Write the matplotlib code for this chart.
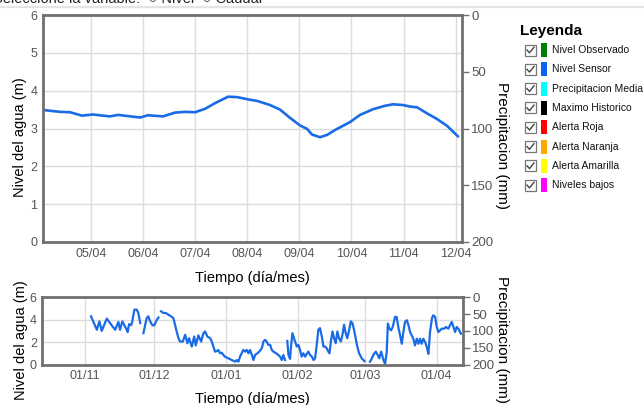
import numpy as np
import pandas as pd
import matplotlib
matplotlib.use("Agg")
import matplotlib.pyplot as plt
import matplotlib.dates as mdates
from matplotlib.patches import Rectangle

plt.rcParams['font.family'] = ['Liberation Sans', 'DejaVu Sans']

# ---------------- data ----------------
# top chart: days since 2016-04-05 00:00, water level (m)
top_days = [-0.915, -0.589, -0.397, -0.167, 0.044, 0.370, 0.524, 0.946, 1.099, 1.387,
            1.617, 1.809, 2.001, 2.193, 2.385, 2.634, 2.806, 3.055, 3.190, 3.439,
            3.631, 3.823, 4.015, 4.149, 4.245, 4.398, 4.533, 4.686, 4.974, 5.166,
            5.415, 5.645, 5.798, 5.990, 6.124, 6.258, 6.450, 6.642, 6.834, 7.045]
top_level = [3.49, 3.44, 3.43, 3.34, 3.37, 3.32, 3.36, 3.29, 3.35, 3.32,
             3.42, 3.44, 3.43, 3.52, 3.67, 3.84, 3.83, 3.76, 3.73, 3.62,
             3.50, 3.28, 3.08, 2.99, 2.84, 2.77, 2.83, 2.96, 3.17, 3.36,
             3.51, 3.60, 3.64, 3.62, 3.58, 3.56, 3.40, 3.25, 3.07, 2.79]
top_ticks = ['2016-04-05', '2016-04-06', '2016-04-07', '2016-04-08',
             '2016-04-09', '2016-04-10', '2016-04-11', '2016-04-12']

# bottom chart: days since 2015-11-01, water level (m); NaN marks gaps
bot_days = [2.8, 5.3, 6.4, 7.4, 9.6, 11.7, 13.2, 14.6, 15.3, 16.3, 17.2, 18.2, 18.6, 19.2,
            20.1, 20.6, 21.5, 22.5, 23.2, 24.0, 24.7,
            25.4, 26.8, 27.5, 28.3, 29.3, 30.1, 31.2, 31.9, 32.5,
            33.0, 34.0, 35.0, 36.2, 37.3, 38.3, 39.1, 39.8, 40.5, 41.2, 42.4, 43.4, 44.4,
            45.1, 46.3, 47.3, 48.0, 49.1, 50.3, 51.3, 52.0, 53.0, 54.2, 54.9, 55.6, 56.3,
            57.1, 57.7, 58.5, 59.2, 59.9, 60.6, 62.1, 63.5, 65.0, 65.7, 66.4, 67.1, 67.8,
            68.5, 69.3, 70.0, 70.7, 71.4, 72.2, 72.9, 73.6, 74.6, 75.4, 76.5, 77.2, 77.9,
            78.6, 79.3, 80.1, 80.8, 81.5, 82.7, 83.6, 84.4, 85.1, 85.8, 86.5, 87.0,
            87.5, 88.0, 88.7, 89.1, 89.7, 90.6, 91.6, 92.3, 93.0, 93.7, 94.4, 95.2, 95.9,
            96.6, 97.3, 98.1, 98.8, 99.5, 100.2, 100.9, 101.6, 102.4, 103.1, 103.8, 104.5,
            105.2, 105.7, 106.3, 107.0, 107.7, 108.4, 109.1, 109.8, 110.6, 111.3, 112.0,
            112.7, 113.4, 114.2, 114.9, 115.6, 116.3, 117.0, 117.7, 118.5, 119.6, 120.8, 122.0,
            123.2, 124.0, 124.6, 125.7, 126.5, 127.2, 128.0, 129.0, 129.7, 130.4, 130.9,
            131.6, 132.3, 133.0, 134.0, 134.7, 135.4, 136.2, 136.9, 137.6, 138.3, 139.1,
            139.8, 140.5, 141.2, 141.9, 142.6, 143.4, 144.1, 144.8, 145.5, 146.2, 147.0,
            147.7, 148.4, 149.1, 149.9, 150.5, 151.3, 152.0, 152.7, 153.4, 154.2, 155.2,
            156.0, 157.0, 157.7, 158.5, 159.2, 159.9, 160.6, 161.3, 162.4]
bot_level = [4.3, 3.1, 3.85, 3.0, 4.1, 3.5, 3.1, 3.8, 3.1, 3.85, 3.5, 3.1, 2.9, 3.6,
             3.5, 3.85, 4.9, 4.9, 4.6, 3.7, np.nan,
             2.8, 4.15, 4.3, 3.85, 3.5, 3.5, 4.0, 4.2, np.nan,
             4.75, 4.6, 4.6, 4.45, 4.3, 4.15, 3.5, 2.95, 2.35, 2.05, 2.05, 2.65, 1.9,
             2.35, 1.6, 2.5, 1.7, 2.6, 2.05, 2.8, 2.95, 2.5, 2.35, 2.05, 1.6, 1.15,
             1.2, 1.3, 1.0, 1.05, 0.85, 0.7, 0.55, 0.4, 0.25, 0.4, 0.25, 0.7, 1.0,
             1.3, 1.15, 1.3, 1.0, 1.3, 0.85, 0.4, 0.85, 1.0, 1.15, 1.45, 2.05, 2.2,
             2.05, 1.75, 1.75, 1.3, 1.15, 1.0, 0.85, 0.7, 0.4, 0.85, 0.4, np.nan,
             2.1, 0.85, 0.5, 1.6, 2.8, 2.2, 1.6, 1.75, 1.3, 0.7, 1.0, 0.7, 0.95,
             1.15, 0.85, 0.7, 0.4, 0.55, 1.75, 3.1, 3.25, 2.5, 1.6, 1.6, 1.45,
             1.15, 1.0, 2.05, 2.95, 2.35, 1.9, 2.95, 2.35, 2.05, 2.65, 3.55,
             2.8, 2.35, 3.1, 3.85, 3.7, 3.1, 2.35, 1.6, 1.0, 0.55, 0.3, np.nan,
             0.25, 0.55, 0.85, 1.15, 0.85, 0.55, 1.15, 0.4, 0.05, 1.1, 3.65,
             3.2, 3.05, 3.35, 4.25, 4.25, 3.35, 2.6, 1.85, 2.9, 3.8, 3.95,
             3.5, 2.9, 2.6, 2.3, 1.7, 2.3, 1.85, 2.3, 1.85, 2.3, 2.0,
             1.55, 0.95, 2.9, 4.1, 4.4, 4.25, 3.35, 2.9, 3.05, 3.2, 3.2,
             3.35, 3.2, 3.5, 3.8, 3.35, 2.9, 3.35, 3.2, 2.75]
bot_ticks = ['2015-11-01', '2015-12-01', '2016-01-01', '2016-02-01', '2016-03-01', '2016-04-01']

legend_labels = ['Nivel Observado', 'Nivel Sensor', 'Precipitacion Media', 'Maximo Historico',
                 'Alerta Roja', 'Alerta Naranja', 'Alerta Amarilla', 'Niveles bajos']
legend_colors = ['#008000', '#0a64f0', '#00ffff', '#000000',
                 '#ff0000', '#ffa500', '#ffff00', '#ff00ff']

# ---------------- figure ----------------
W, H = 644, 405
fig = plt.figure(figsize=(W / 100, H / 100), dpi=100)

LINE = '#1a6be6'
FRAME = '#707070'
TICKC = '#555555'
GRID = '#dcdcdc'


def fx(px):
    return px / W


def fy(py):
    return 1 - py / H


def style(ax, ylim, yticks, xticks, xlim, fmt):
    ax.set_xlim(xlim)
    ax.set_ylim(ylim)
    ax.set_yticks(yticks)
    ax.set_xticks(xticks)
    ax.xaxis.set_major_formatter(mdates.DateFormatter(fmt))
    ax.grid(True, color=GRID, lw=1)
    ax.set_axisbelow(True)
    for s in ax.spines.values():
        s.set_color(FRAME)
        s.set_linewidth(2)
    ax.tick_params(axis='both', length=0, labelsize=9, colors=TICKC, pad=4)


def right_axis(ax):
    r = ax.twinx()
    r.set_ylim(200, 0)
    r.set_yticks([0, 50, 100, 150, 200])
    r.tick_params(axis='y', length=5, width=1, color=FRAME, labelsize=9.5,
                  labelcolor=TICKC, pad=2)
    for s in r.spines.values():
        s.set_visible(False)
    return r


# top chart
ax1 = fig.add_axes([fx(43), fy(242), fx(461.7 - 43), (242 - 15) / H])
base_top = pd.Timestamp('2016-04-05')
t_top = base_top + pd.to_timedelta(np.array(top_days), unit='D')
ax1.plot(t_top, top_level, color=LINE, lw=1.9, solid_capstyle='round', solid_joinstyle='round')
style(ax1, (0, 6), range(0, 7),
      pd.to_datetime(top_ticks),
      (base_top + pd.Timedelta(days=-0.915), base_top + pd.Timedelta(days=7.115)),
      '%d/%m')
ax1.set_xlabel('Tiempo (día/mes)', fontsize=10.5, labelpad=8)
right_axis(ax1)

# bottom chart
ax2 = fig.add_axes([fx(42.4), fy(364.5), fx(462.7 - 42.4), (364.5 - 297.3) / H])
base_bot = pd.Timestamp('2015-11-01')
t_bot = base_bot + pd.to_timedelta(np.array(bot_days), unit='D')
ax2.plot(t_bot, bot_level, color=LINE, lw=1.6, solid_joinstyle='round')
style(ax2, (0, 6), [0, 2, 4, 6],
      pd.to_datetime(bot_ticks),
      (base_bot + pd.Timedelta(days=-18.2), base_bot + pd.Timedelta(days=163.2)),
      '%d/%m')
ax2.set_xlabel('Tiempo (día/mes)', fontsize=10.5, labelpad=7)
right_axis(ax2)

# axis titles placed like the reference
fig.text(fx(20), fy(137), 'Nivel del agua (m)', rotation=90, fontsize=10.5,
         ha='center', va='center')
fig.text(fx(502), fy(145), 'Precipitacion (mm)', rotation=-90, fontsize=11,
         ha='center', va='center')
fig.text(fx(21), fy(340), 'Nivel del agua (m)', rotation=90, fontsize=10.5,
         ha='center', va='center')
fig.text(fx(502), fy(340), 'Precipitacion (mm)', rotation=-90, fontsize=11,
         ha='center', va='center')

# header (cut off at the top of the image, as in the reference)
fig.text(fx(-7), fy(3), 'Seleccione la variable:  \u25CB Nivel  \u25CB Caudal',
         fontsize=10.5, va='baseline', ha='left', color='#222222')
fig.add_artist(plt.Line2D([0, 1], [fy(7), fy(7)], color='#e4e4e4', lw=1.5))

# legend
fig.text(fx(520), fy(31), 'Leyenda', fontsize=11, fontweight='bold', va='center', ha='left')
row0, step = 50, 19.3
for i, (lab, col) in enumerate(zip(legend_labels, legend_colors)):
    yc = row0 + i * step
    fig.add_artist(Rectangle((fx(525), fy(yc + 5.5)), fx(11), 11 / H,
                             facecolor='white', edgecolor='#777777', lw=0.9))
    fig.add_artist(plt.Line2D([fx(527), fx(529.5), fx(534)],
                              [fy(yc), fy(yc + 2.8), fy(yc - 2.8)],
                              color='#444444', lw=1.0))
    fig.add_artist(Rectangle((fx(541), fy(yc + 7)), fx(6), 14 / H,
                             facecolor=col, edgecolor='none'))
    fig.text(fx(552), fy(yc), lab, fontsize=7.5, va='center', ha='left', color='#111111')

fig.savefig('out.png', dpi=100)
